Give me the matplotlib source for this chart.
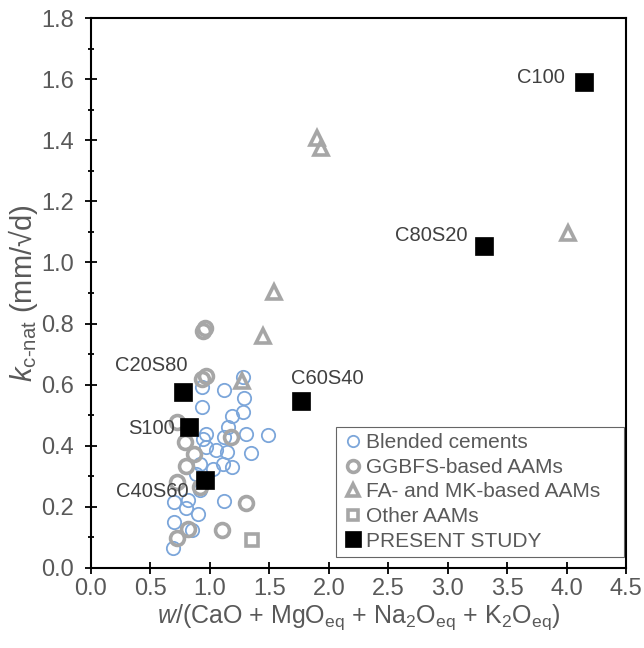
import matplotlib
matplotlib.use('Agg')
import matplotlib.pyplot as plt

plt.rcParams['font.family'] = ['Liberation Sans', 'DejaVu Sans']
plt.rcParams['mathtext.fontset'] = 'custom'
plt.rcParams['mathtext.rm'] = 'Liberation Sans'
plt.rcParams['mathtext.it'] = 'Liberation Sans:italic'

# Blended cements
blend_x = [1.28, 0.93, 1.12, 1.285, 0.93, 1.19, 1.277, 1.15, 0.97, 0.94, 1.30, 1.485,
           1.12, 0.97, 1.05, 1.14, 1.345, 1.11, 1.19, 1.025, 0.915, 0.885, 1.115, 0.70,
           0.815, 0.80, 0.90, 0.70, 0.85, 0.69, 0.915]
blend_y = [0.626, 0.593, 0.583, 0.557, 0.526, 0.499, 0.51, 0.461, 0.439, 0.423, 0.439, 0.436,
           0.43, 0.396, 0.385, 0.379, 0.376, 0.341, 0.33, 0.325, 0.341, 0.309, 0.219, 0.216,
           0.222, 0.195, 0.178, 0.151, 0.124, 0.064, 0.254]

# GGBFS-based AAMs
ggbfs_x = [0.94, 0.955, 0.93, 0.97, 0.72, 0.79, 0.87, 0.795, 1.18, 0.72, 0.915, 1.30, 1.105,
           0.815, 0.725]
ggbfs_y = [0.776, 0.787, 0.618, 0.629, 0.477, 0.412, 0.374, 0.334, 0.43, 0.281, 0.265, 0.213,
           0.124, 0.129, 0.097]

# FA- and MK-based AAMs
fa_x = [1.905, 1.935, 4.01, 1.54, 1.445, 1.27]
fa_y = [1.406, 1.376, 1.097, 0.904, 0.76, 0.613]

# Other AAMs
other_x = [1.355]
other_y = [0.093]

# Present study
mix_names = ['C100', 'C80S20', 'C60S40', 'C40S60', 'C20S80', 'S100']
mix_x = [4.15, 3.305, 1.765, 0.955, 0.775, 0.825]
mix_y = [1.59, 1.055, 0.545, 0.287, 0.577, 0.461]

BLUE = '#7CA6DA'
GRAY = '#A6A6A6'
TXT = '#595959'

fig = plt.figure(figsize=(6.44, 6.48), dpi=100)
ax = fig.add_axes([0.1413, 0.1235, 0.8307, 0.8487])

ax.plot(blend_x, blend_y, 'o', ms=9.6, mfc='none', mec=BLUE, mew=1.3,
        label='Blended cements', zorder=3)
ax.plot(ggbfs_x, ggbfs_y, 'o', ms=10, mfc='none', mec=GRAY, mew=2.6,
        label='GGBFS-based AAMs', zorder=4)
ax.plot(fa_x, fa_y, '^', ms=10.5, mfc='none', mec=GRAY, mew=2.6,
        label='FA- and MK-based AAMs', zorder=4)
ax.plot(other_x, other_y, 's', ms=8.5, mfc='none', mec=GRAY, mew=2.6,
        label='Other AAMs', zorder=4)
ax.plot(mix_x, mix_y, 's', ms=13.5, mfc='black', mec='black', mew=0.5,
        label='PRESENT STUDY', zorder=5)

# labels next to the present study mixes (offset in points, alignment)
offsets = {
    'C100': (-14, 3.6, 'right'),
    'C80S20': (-12, 7, 'right'),
    'C60S40': (-7, 16.5, 'left'),
    'C40S60': (-11.5, -8, 'right'),
    'C20S80': (3.5, 19, 'right'),
    'S100': (-10, -1, 'right'),
}
for name, x, y in zip(mix_names, mix_x, mix_y):
    dx, dy, ha = offsets[name]
    ax.annotate(name, (x, y), xytext=(dx, dy), textcoords='offset points',
                ha=ha, va='center', fontsize=14.5, color='#404040', zorder=6)

ax.set_xlim(0, 4.5)
ax.set_ylim(0, 1.8)
ax.set_xticks([i * 0.5 for i in range(10)])
ax.set_yticks([i * 0.2 for i in range(10)])
ax.set_yticks([i * 0.1 for i in range(19)], minor=True)
ax.xaxis.set_major_formatter(matplotlib.ticker.FormatStrFormatter('%.1f'))
ax.yaxis.set_major_formatter(matplotlib.ticker.FormatStrFormatter('%.1f'))
ax.tick_params(axis='both', which='major', direction='inout', length=8, width=1.3,
               labelsize=17, labelcolor=TXT)
ax.tick_params(axis='x', which='major', pad=3)
ax.tick_params(axis='y', which='major', pad=8)
ax.tick_params(axis='y', which='minor', direction='inout', length=5, width=1.3)

for s in ax.spines.values():
    s.set_linewidth(1.5)
    s.set_color('black')

ax.set_xlabel(r'$\it{w}$/(CaO + MgO$_{\rm eq}$ + Na$_2$O$_{\rm eq}$ + K$_2$O$_{\rm eq}$)',
              fontsize=18, color=TXT, labelpad=2)
ax.set_ylabel(r'$\it{k}$$_{\rm c\text{-}nat}$ (mm/√d)', fontsize=21, color=TXT, labelpad=1)

leg = ax.legend(loc='lower left', bbox_to_anchor=(0.458, 0.02, 0.538, 0.236),
                mode='expand', fontsize=15, markerscale=0.85,
                frameon=True, fancybox=False, handlelength=1.0, handletextpad=0.15,
                labelspacing=0.27, borderpad=0.3, borderaxespad=0)
leg.get_frame().set_edgecolor('#404040')
leg.get_frame().set_linewidth(0.8)
for t in leg.get_texts():
    t.set_color(TXT)

fig.savefig('out.png', dpi=100)
